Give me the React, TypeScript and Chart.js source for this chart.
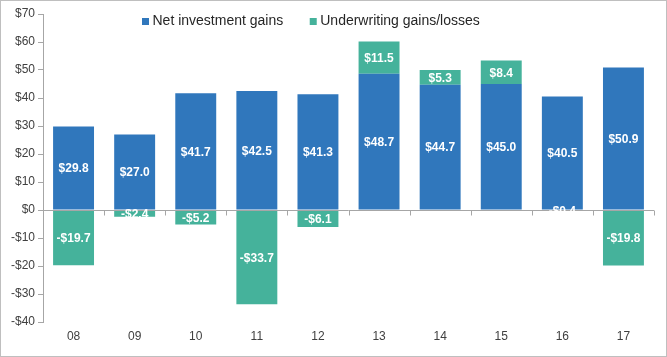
import React, { useEffect, useRef } from "react";
import { Chart, registerables } from "chart.js";

Chart.register(...registerables);

const categories = ["08", "09", "10", "11", "12", "13", "14", "15", "16", "17"];
const netInvestment = [29.8, 27.0, 41.7, 42.5, 41.3, 48.7, 44.7, 45.0, 40.5, 50.9];
const underwriting = [-19.7, -2.4, -5.2, -33.7, -6.1, 11.5, 5.3, 8.4, -0.4, -19.8];
const seriesNames = ["Net investment gains", "Underwriting gains/losses"];
const seriesColors = ["#3077BC", "#45B29B"];
const yMin = -40;
const yMax = 70;
const yStep = 10;

const fmt = (v: number) => (v < 0 ? "-$" : "$") + Math.abs(v).toFixed(1);
const fmtTick = (v: number) => (v < 0 ? "-$" : "$") + Math.abs(v);

const FONT = "'Liberation Sans', Arial, sans-serif";
const AXIS_GRAY = "#A6A6A6";
const TEXT = "#404040";

const overlayPlugin = {
  id: "overlay",
  afterDatasetsDraw(chart: any) {
    const ctx = chart.ctx;
    const area = chart.chartArea;
    const y = chart.scales.y;
    const x = chart.scales.x;
    const zeroY = Math.round(y.getPixelForValue(0)) + 0.5;
    ctx.save();
    // zero line with category boundary ticks
    ctx.strokeStyle = AXIS_GRAY;
    ctx.lineWidth = 1;
    ctx.beginPath();
    ctx.moveTo(area.left, zeroY);
    ctx.lineTo(area.right, zeroY);
    const n = categories.length;
    const cw = (area.right - area.left) / n;
    for (let i = 1; i <= n; i++) {
      const tx = Math.round(area.left + i * cw) + 0.5;
      ctx.moveTo(tx, zeroY);
      ctx.lineTo(tx, zeroY + 5);
    }
    ctx.stroke();

    // data labels
    ctx.fillStyle = "#FFFFFF";
    ctx.font = `bold 12px ${FONT}`;
    ctx.textAlign = "center";
    ctx.textBaseline = "middle";
    chart.data.datasets.forEach((ds: any, di: number) => {
      const meta = chart.getDatasetMeta(di);
      meta.data.forEach((bar: any, i: number) => {
        const v = ds.data[i];
        const cy = (bar.y + bar.base) / 2;
        ctx.fillText(fmt(v), bar.x, cy + 1);
      });
    });

    // legend
    ctx.font = `14px ${FONT}`;
    ctx.textAlign = "left";
    ctx.textBaseline = "alphabetic";
    let lx = 141;
    const baseY = 24;
    seriesNames.forEach((name, i) => {
      ctx.fillStyle = seriesColors[i];
      ctx.fillRect(lx, baseY - 7, 7, 7);
      ctx.fillStyle = "#262626";
      ctx.fillText(name, lx + 10.5, baseY);
      lx += 10.5 + ctx.measureText(name).width + 26.5;
    });
    ctx.restore();
  },
};

export default function App() {
  const ref = useRef<HTMLCanvasElement>(null);
  useEffect(() => {
    document.body.style.margin = "0";
    const chart = new Chart(ref.current!, {
      type: "bar",
      data: {
        labels: categories,
        datasets: [
          {
            label: seriesNames[0],
            data: netInvestment,
            backgroundColor: seriesColors[0],
            borderWidth: 0,
          },
          {
            label: seriesNames[1],
            data: underwriting,
            backgroundColor: seriesColors[1],
            borderWidth: 0,
          },
        ],
      },
      plugins: [overlayPlugin],
      options: {
        animation: false,
        responsive: false,
        maintainAspectRatio: false,
        devicePixelRatio: 1,
        layout: { padding: { top: 13, right: 12, left: 0, bottom: 0 } },
        datasets: { bar: { categoryPercentage: 1, barPercentage: 0.67 } },
        plugins: {
          legend: { display: false },
          tooltip: { enabled: false },
        },
        scales: {
          x: {
            stacked: true,
            grid: { display: false, drawTicks: false },
            border: { display: false },
            ticks: { color: TEXT, font: { family: FONT, size: 12 }, padding: 7 },
            afterFit: (s: any) => {
              s.height = 34;
            },
          },
          y: {
            stacked: true,
            min: yMin,
            max: yMax,
            grid: {
              display: true,
              drawOnChartArea: false,
              drawTicks: true,
              tickLength: 5,
              color: AXIS_GRAY,
            },
            border: { display: true, color: AXIS_GRAY },
            ticks: {
              stepSize: yStep,
              color: TEXT,
              font: { family: FONT, size: 12 },
              padding: 3,
              callback: (v: any) => fmtTick(Number(v)),
            },
            afterFit: (s: any) => {
              s.width = 42;
            },
          },
        },
      },
    });
    return () => chart.destroy();
  }, []);
  return (
    <div
      style={{
        position: "absolute",
        left: 0,
        top: 0,
        width: 667,
        height: 357,
        boxSizing: "border-box",
        border: "1px solid #BFBFBF",
        background: "#fff",
      }}
    >
      <canvas ref={ref} width={665} height={355} style={{ display: "block", width: 665, height: 355 }} />
    </div>
  );
}
